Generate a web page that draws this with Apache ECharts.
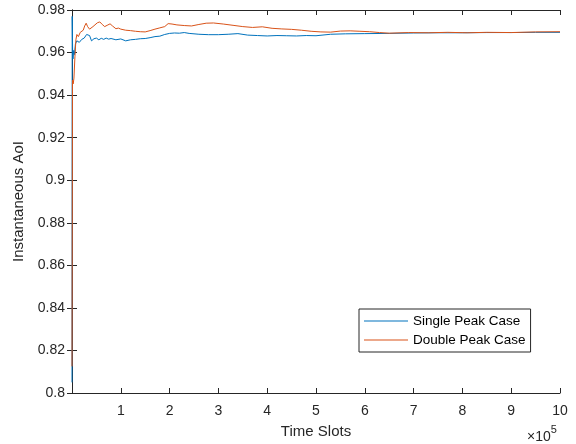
<!DOCTYPE html>
<html><head><meta charset="utf-8">
<script src="https://cdn.jsdelivr.net/npm/echarts@6/dist/echarts.min.js"></script>
<style>html,body{margin:0;padding:0;background:#fff}#c{width:576px;height:444px}</style>
</head><body><div id="c"></div>
<script>
// x in units of 1e5 time slots
const singleX = [0,0.004,0.012,0.02,0.035,0.05,0.07,0.1,0.15,0.2,0.25,0.3,0.33,0.36,0.4,0.45,0.5,0.55,0.6,0.65,0.7,0.75,0.8,0.9,1.0,1.1,1.2,1.3,1.4,1.5,1.6,1.7,1.8,1.9,2.0,2.1,2.2,2.3,2.4,2.6,2.8,3.0,3.2,3.4,3.6,3.8,4.0,4.2,4.4,4.6,4.8,5.0,5.3,5.6,6.0,6.5,7.0,7.5,8.0,8.5,9.0,9.5,10];
const singleY = [0.805,0.977,0.962,0.957,0.961,0.959,0.964,0.9655,0.9648,0.9662,0.9668,0.9685,0.969,0.968,0.9655,0.9665,0.9668,0.966,0.9667,0.9662,0.9668,0.9663,0.9666,0.966,0.9664,0.9655,0.966,0.9662,0.9665,0.9666,0.967,0.9675,0.9677,0.9685,0.969,0.9692,0.9691,0.9694,0.969,0.9686,0.9684,0.9684,0.9686,0.9689,0.9682,0.968,0.9678,0.968,0.9679,0.9678,0.968,0.9679,0.9686,0.9688,0.9689,0.969,0.9692,0.9693,0.9693,0.9694,0.9694,0.9695,0.9695];
const doubleX = [0,0.01,0.025,0.04,0.06,0.08,0.1,0.13,0.17,0.2,0.23,0.26,0.29,0.32,0.36,0.4,0.43,0.47,0.52,0.57,0.62,0.67,0.72,0.78,0.83,0.9,0.95,1.0,1.1,1.2,1.3,1.4,1.5,1.6,1.7,1.8,1.9,1.97,2.05,2.15,2.3,2.45,2.6,2.75,2.9,3.1,3.3,3.5,3.7,3.9,4.1,4.3,4.5,4.7,4.9,5.1,5.3,5.5,5.7,5.9,6.1,6.3,6.5,6.9,7.3,7.7,8.1,8.5,9.0,9.5,10];
const doubleY = [0.8125,0.947,0.9453,0.948,0.958,0.966,0.9685,0.9675,0.9695,0.97,0.9705,0.9725,0.9738,0.9722,0.971,0.9718,0.9722,0.9728,0.974,0.9744,0.9732,0.9722,0.9728,0.9735,0.9725,0.9712,0.9715,0.971,0.9705,0.9703,0.97,0.9698,0.9697,0.9703,0.971,0.9716,0.9722,0.9736,0.9734,0.973,0.9727,0.9725,0.9732,0.9738,0.9739,0.9734,0.9728,0.9722,0.9718,0.9721,0.9714,0.9711,0.9709,0.9705,0.97,0.9697,0.9696,0.9701,0.9702,0.97,0.9698,0.9694,0.9691,0.9694,0.9693,0.9695,0.9693,0.9695,0.9694,0.9697,0.9698];
const seriesNames = ['Single Peak Case','Double Peak Case'];
const xTicks = [1,2,3,4,5,6,7,8,9,10];

const zip = (xs, ys) => xs.map((x, i) => [x, ys[i]]);
const axisColor = '#262626';
const font = 'Liberation Sans, Arial, sans-serif';
const chart = echarts.init(document.getElementById('c'), null, {renderer: 'canvas'});
const tickInside = {show: true, inside: true, length: 5, lineStyle: {color: axisColor, width: 1}};
chart.setOption({
  animation: false,
  backgroundColor: '#fff',
  grid: {left: 72, right: 16, top: 10, bottom: 50, containLabel: false},
  legend: {
    orient: 'vertical', left: 359, top: 309,
    data: seriesNames.map(n => ({name: n, icon: 'rect'})),
    itemWidth: 44, itemHeight: 1, itemGap: 5,
    padding: [5, 5, 5, 5],
    backgroundColor: '#fff', borderColor: '#262626', borderWidth: 1,
    textStyle: {fontFamily: font, fontSize: 13.5, color: '#000', padding: [0, 0, 0, 0]}
  },
  xAxis: [{
    type: 'value', min: 0, max: 10, interval: 1,
    name: 'Time Slots', nameLocation: 'middle', nameGap: 31,
    nameTextStyle: {fontFamily: font, fontSize: 15, color: axisColor},
    axisLine: {show: true, lineStyle: {color: axisColor, width: 1}},
    axisTick: tickInside,
    axisLabel: {fontFamily: font, fontSize: 14, color: axisColor, margin: 11,
      formatter: v => (xTicks.indexOf(v) >= 0 ? String(v) : '')},
    splitLine: {show: false}
  }, {
    type: 'value', min: 0, max: 10, interval: 1, position: 'top',
    axisLine: {show: true, lineStyle: {color: axisColor, width: 1}},
    axisTick: tickInside, axisLabel: {show: false}, splitLine: {show: false}
  }],
  yAxis: [{
    type: 'value', min: 0.8, max: 0.98, interval: 0.02,
    name: 'Instantaneous AoI', nameLocation: 'middle', nameGap: 45,
    nameTextStyle: {fontFamily: font, fontSize: 15, color: axisColor},
    axisLine: {show: true, lineStyle: {color: axisColor, width: 1}},
    axisTick: tickInside,
    axisLabel: {fontFamily: font, fontSize: 14, color: axisColor, margin: 7,
      formatter: v => String(+v.toFixed(2))},
    splitLine: {show: false}
  }, {
    type: 'value', min: 0.8, max: 0.98, interval: 0.02, position: 'right',
    axisLine: {show: true, lineStyle: {color: axisColor, width: 1}},
    axisTick: tickInside, axisLabel: {show: false}, splitLine: {show: false}
  }],
  series: [{
    name: seriesNames[0], type: 'line', xAxisIndex: 0, yAxisIndex: 0,
    data: zip(singleX, singleY), showSymbol: false, symbol: 'none',
    lineStyle: {color: '#0072BD', width: 1}, itemStyle: {color: '#0072BD'}
  }, {
    name: seriesNames[1], type: 'line', xAxisIndex: 0, yAxisIndex: 0,
    data: zip(doubleX, doubleY), showSymbol: false, symbol: 'none',
    lineStyle: {color: '#D95319', width: 1}, itemStyle: {color: '#D95319'}
  }],
  graphic: [{
    type: 'text', left: 527, top: 424,
    style: {
      text: '{a|×10}{b|5}',
      rich: {
        a: {fontFamily: font, fontSize: 14, fill: axisColor, verticalAlign: 'bottom', lineHeight: 20},
        b: {fontFamily: font, fontSize: 11, fill: axisColor, verticalAlign: 'top', lineHeight: 20, padding: [0, 0, 9, 0]}
      }
    }
  }]
});
</script></body></html>
